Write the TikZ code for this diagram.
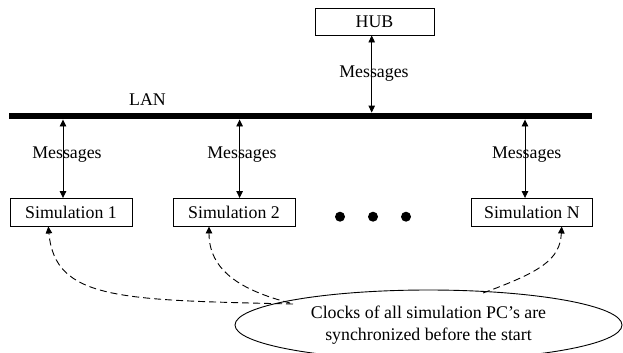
\documentclass[tikz,border=0pt]{standalone}
\usepackage{fontspec}
\setmainfont{Liberation Serif}
\usetikzlibrary{arrows.meta,shapes.geometric}
\begin{document}
\begin{tikzpicture}[x=1bp,y=-1bp, line width=0.9bp,
  txt/.style={font=\fontsize{17.9}{22}\selectfont, inner sep=0pt},
  simbox/.style={draw, txt, minimum width=121bp, minimum height=27.5bp},
  msg/.style={{Triangle[length=7bp,width=6.5bp]}-{Triangle[length=7bp,width=6.5bp]}},
  sync/.style={dash pattern=on 7bp off 4bp, -{Triangle[length=7bp,width=6.5bp]}},
  dotnode/.style={circle, fill=black, minimum size=10bp, inner sep=0pt}]
\useasboundingbox (0,0) rectangle (623,352);
\fill[white] (0,0) rectangle (623,352);
% nodes
\node[simbox, minimum width=119bp, minimum height=27bp] (hub) at (374.5,21.5) {HUB};
\node[fill=black, minimum width=583bp, minimum height=6bp, inner sep=0pt] (lan) at (300.5,116) {};
\node[txt] (lanlbl) at (147.5,99.5) {LAN};
\node[simbox, minimum width=122bp] (s1) at (71,212.25) {Simulation 1};
\node[simbox, minimum width=122bp] (s2) at (234,212.25) {Simulation 2};
\node[simbox, minimum width=120.5bp] (sN) at (531.9,212.25) {Simulation N};
\node[dotnode] (d1) at (340,216.7) {};
\node[dotnode] (d2) at (373,216.7) {};
\node[dotnode] (d3) at (406,216.7) {};
% x positions of the message arrows
\coordinate (axH) at (371.7,0);
\coordinate (ax1) at (63,0);
\coordinate (ax2) at (239.6,0);
\coordinate (axN) at (525,0);
% message arrows
\draw[msg] (hub.south -| axH) -- (lan.north -| axH);
\draw[msg] (lan.south -| ax1) -- (s1.north -| ax1);
\draw[msg] (lan.south -| ax2) -- (s2.north -| ax2);
\draw[msg] (lan.south -| axN) -- (sN.north -| axN);
\node[txt] (mH) at (374,74) {Messages};
\node[txt] (m1) at (67,154.5) {Messages};
\node[txt] (m2) at (242,154.5) {Messages};
\node[txt] (mN) at (526.7,154.5) {Messages};
% ellipse
\begin{scope}
\clip (0,0) rectangle (623,352);
\node[ellipse, draw, txt, align=center, minimum width=387bp, minimum height=70bp] (clk) at (428.5,325)
  {Clocks of all simulation PC’s are\\synchronized before the start};
\end{scope}
% sync arrows
\coordinate (e1) at (293,304);
\coordinate (e2) at (290,303);
\coordinate (e3) at (483,293);
\coordinate (tx1) at (48.3,0);
\coordinate (tx2) at (209,0);
\coordinate (txN) at (561.7,0);
\draw[sync] (e1) .. controls (120,300) and (55,300) .. (s1.south -| tx1);
\draw[sync] (e2) .. controls (240,290) and (209,270) .. (s2.south -| tx2);
\draw[sync] (e3) .. controls (540,272) and (560,260) .. (sN.south -| txN);
\end{tikzpicture}
\end{document}
